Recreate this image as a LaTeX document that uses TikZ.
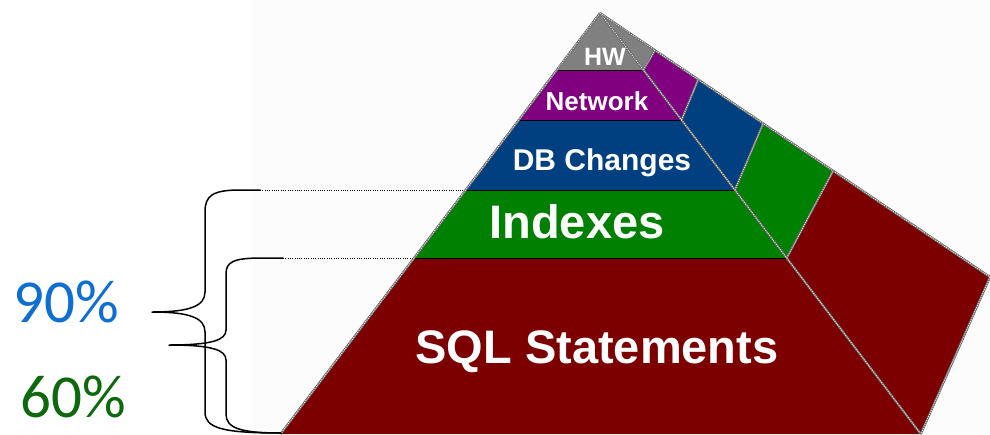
\documentclass[tikz,border=0pt]{standalone}
\usepackage{fontspec}
\setmainfont{Liberation Sans}
\newfontfamily\pctfont{Carlito}
\definecolor{hwgray}{HTML}{808080}
\definecolor{netpurple}{HTML}{800080}
\definecolor{dbblue}{HTML}{004080}
\definecolor{idxgreen}{HTML}{008000}
\definecolor{sqlred}{HTML}{7D0000}
\definecolor{pblue}{HTML}{0E6ED2}
\definecolor{pgreen}{HTML}{0E690E}
\definecolor{bgtint}{HTML}{FCFCFC}
\tikzset{
  pyredge/.style={draw=gray!85!black, line width=2.2pt, line join=round},
  pyrdots/.style={draw=white!85!gray, line width=0.8pt, dash pattern=on 1pt off 1.2pt},
  bandline/.style={draw=black, line width=1pt},
  dotext/.style={draw=black, line width=0.9pt, dash pattern=on 1pt off 1.3pt},
  bracepath/.style={draw=black, line width=1.5pt, line cap=round, line join=round},
  lbl/.style={text=white, font=\bfseries, inner sep=0pt, anchor=center},
  pct/.style={inner sep=0pt, anchor=center}
}
\begin{document}
\begin{tikzpicture}[x=1pt,y=-1pt]
\useasboundingbox (0,0) rectangle (990,434);
\fill[bgtint] (250,0) rectangle (990,434);
% key points
\coordinate (apex) at (600,13);
\coordinate (L1) at (556.7,70);  \coordinate (R1) at (643.4,70);
\coordinate (L2) at (518.8,120); \coordinate (R2) at (681.5,120);
\coordinate (L3) at (465.7,190); \coordinate (R3) at (734.9,190);
\coordinate (L4) at (414.0,258); \coordinate (R4) at (786.7,258);
\coordinate (L5) at (280.5,434); \coordinate (R5) at (920.8,434);
\coordinate (B1) at (655,50);
\coordinate (B2) at (698,80);
\coordinate (B3) at (763,124);
\coordinate (B4) at (833,171);
\coordinate (B5) at (990,277);
% front faces
\fill[hwgray] (apex) -- (R1) -- (L1) -- cycle;
\fill[netpurple] (L1) -- (R1) -- (R2) -- (L2) -- cycle;
\fill[dbblue] (L2) -- (R2) -- (R3) -- (L3) -- cycle;
\fill[idxgreen] (L3) -- (R3) -- (R4) -- (L4) -- cycle;
\fill[sqlred] (L4) -- (R4) -- (R5) -- (L5) -- cycle;
% side faces
\fill[hwgray] (apex) -- (B1) -- (R1) -- cycle;
\fill[netpurple] (R1) -- (B1) -- (B2) -- (R2) -- cycle;
\fill[dbblue] (R2) -- (B2) -- (B3) -- (R3) -- cycle;
\fill[idxgreen] (R3) -- (B3) -- (B4) -- (R4) -- cycle;
\fill[sqlred] (R4) -- (B4) -- (B5) -- (R5) -- cycle;
% band lines on front
\draw[bandline] (L1) -- (R1);
\draw[bandline] (L2) -- (R2);
\draw[bandline] (L3) -- (R3);
\draw[bandline] (L4) -- (R4);
% dotted extensions
\coordinate (T1) at (260,190);
\coordinate (T2) at (283,258);
\draw[dotext] (T1) -- (L3);
\draw[dotext] (T2) -- (L4);
% pyramid edges
\foreach \a/\b in {apex/L5, apex/R5, apex/B5, R1/B1, R2/B2, R3/B3, R4/B4, B5/R5}{
  \draw[pyredge] (\a) -- (\b);
  \draw[pyrdots] (\a) -- (\b);
}
% labels
\node[lbl, font=\bfseries\fontsize{25}{25}\selectfont] (hw) at (605,57) {HW};
\node[lbl, font=\bfseries\fontsize{26}{26}\selectfont] (net) at (597,101) {Network};
\node[lbl, font=\bfseries\fontsize{30}{30}\selectfont] (db) at (602,163) {DB Changes};
\node[lbl, font=\bfseries\fontsize{47}{47}\selectfont] (idx) at (577,222) {Indexes};
\node[lbl, font=\bfseries\fontsize{47}{47}\selectfont] (sql) at (597,352) {SQL Statements};
% braces
\coordinate (bot) at (281,433);
\coordinate (tip1) at (152,312);
\coordinate (tip2) at (169,345);
\draw[bracepath] (T1) -- (240,190) .. controls (212,190) and (205,196) .. (205,212)
  -- (205,292) .. controls (205,306) and (190,312) .. (tip1)
  .. controls (190,312) and (205,318) .. (205,332)
  -- (205,412) .. controls (205,428) and (222,433) .. (bot);
\draw[bracepath] (T2) -- (262,258) .. controls (233,258) and (226,262) .. (226,274)
  -- (226,330) .. controls (226,340) and (212,345) .. (tip2)
  .. controls (212,345) and (226,350) .. (226,360)
  -- (226,414) .. controls (226,428) and (240,433) .. (bot);
% percentages
\node[pct, text=pblue, font=\pctfont\fontsize{61}{61}\selectfont] (p90) at (66,302) {90\%};
\node[pct, text=pgreen, font=\pctfont\fontsize{61}{61}\selectfont] (p60) at (73,397) {60\%};
\end{tikzpicture}
\end{document}
